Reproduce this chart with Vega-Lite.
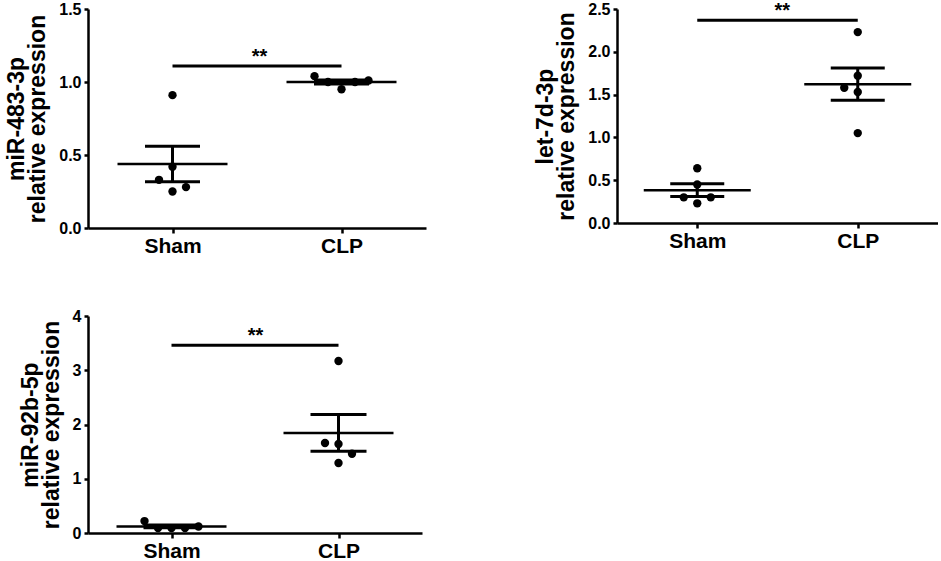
{
  "$schema": "https://vega.github.io/schema/vega-lite/v6.json",
  "padding": {"left": 5, "top": 1, "right": 0, "bottom": 0},
  "bounds": "flush",
  "columns": 2,
  "spacing": {"row": 88, "column": 191},
  "datasets": {
    "points": [
      {"panel": "p1", "group": "Sham", "value": 0.91, "slot": 0},
      {"panel": "p1", "group": "Sham", "value": 0.42, "slot": 0},
      {"panel": "p1", "group": "Sham", "value": 0.33, "slot": -1},
      {"panel": "p1", "group": "Sham", "value": 0.25, "slot": 0},
      {"panel": "p1", "group": "Sham", "value": 0.28, "slot": 1},
      {"panel": "p1", "group": "CLP", "value": 1.04, "slot": -2},
      {"panel": "p1", "group": "CLP", "value": 1.0, "slot": -1},
      {"panel": "p1", "group": "CLP", "value": 0.95, "slot": 0},
      {"panel": "p1", "group": "CLP", "value": 1.0, "slot": 1},
      {"panel": "p1", "group": "CLP", "value": 1.01, "slot": 2},
      {"panel": "p2", "group": "Sham", "value": 0.64, "slot": 0},
      {"panel": "p2", "group": "Sham", "value": 0.45, "slot": 0},
      {"panel": "p2", "group": "Sham", "value": 0.3, "slot": -1},
      {"panel": "p2", "group": "Sham", "value": 0.23, "slot": 0},
      {"panel": "p2", "group": "Sham", "value": 0.3, "slot": 1},
      {"panel": "p2", "group": "CLP", "value": 2.23, "slot": 0},
      {"panel": "p2", "group": "CLP", "value": 1.72, "slot": 0},
      {"panel": "p2", "group": "CLP", "value": 1.58, "slot": -1},
      {"panel": "p2", "group": "CLP", "value": 1.53, "slot": 0},
      {"panel": "p2", "group": "CLP", "value": 1.05, "slot": 0},
      {"panel": "p3", "group": "Sham", "value": 0.22, "slot": -2},
      {"panel": "p3", "group": "Sham", "value": 0.09, "slot": -1},
      {"panel": "p3", "group": "Sham", "value": 0.09, "slot": 0},
      {"panel": "p3", "group": "Sham", "value": 0.09, "slot": 1},
      {"panel": "p3", "group": "Sham", "value": 0.12, "slot": 2},
      {"panel": "p3", "group": "CLP", "value": 3.17, "slot": 0},
      {"panel": "p3", "group": "CLP", "value": 1.66, "slot": -1},
      {"panel": "p3", "group": "CLP", "value": 1.64, "slot": 0},
      {"panel": "p3", "group": "CLP", "value": 1.46, "slot": 1},
      {"panel": "p3", "group": "CLP", "value": 1.29, "slot": 0}
    ],
    "sig": [
      {"panel": "p1", "from": "Sham", "to": "CLP", "y": 1.11, "label": "**"},
      {"panel": "p2", "from": "Sham", "to": "CLP", "y": 2.37, "label": "**"},
      {"panel": "p3", "from": "Sham", "to": "CLP", "y": 3.46, "label": "**"}
    ]
  },
  "concat": [
    {
      "width": 338,
      "height": 219,
      "layer": [
        {
          "data": {"name": "points"},
          "transform": [{"filter": "datum.panel == 'p1'"}],
          "layer": [
            {
              "mark": {"type": "tick", "color": "black", "opacity": 1, "size": 110, "thickness": 2.5},
              "encoding": {
                "x": {"field": "group", "type": "nominal", "scale": {"type": "point", "domain": ["Sham", "CLP"], "padding": 0.5}, "axis": {"title": null}},
                "y": {"aggregate": "mean", "field": "value", "type": "quantitative", "title": ["miR-483-3p", "relative expression"]}
              }
            },
            {
              "mark": {"type": "errorbar", "extent": "stderr", "ticks": {"size": 55, "thickness": 3, "color": "black", "opacity": 1}, "rule": {"strokeWidth": 3, "color": "black", "opacity": 1}},
              "encoding": {
                "x": {"field": "group", "type": "nominal"},
                "y": {"field": "value", "type": "quantitative", "title": ["miR-483-3p", "relative expression"]}
              }
            },
            {
              "mark": {"type": "point", "filled": true, "color": "black", "opacity": 1, "size": 70},
              "encoding": {
                "x": {"field": "group", "type": "nominal"},
                "xOffset": {"field": "slot", "type": "quantitative", "scale": {"domain": [-2, 2], "range": [-27, 27]}},
                "y": {
                  "field": "value", "type": "quantitative",
                  "title": ["miR-483-3p", "relative expression"],
                  "scale": {"domain": [0, 1.5], "nice": false},
                  "axis": {"values": [0, 0.5, 1, 1.5], "format": ".1f"}
                }
              }
            }
          ]
        },
        {
          "data": {"name": "sig"},
          "transform": [{"filter": "datum.panel == 'p1'"}],
          "layer": [
            {
              "mark": {"type": "rule", "color": "black", "strokeWidth": 3},
              "encoding": {
                "x": {"field": "from", "type": "nominal"},
                "x2": {"field": "to"},
                "y": {"field": "y", "type": "quantitative", "title": ["miR-483-3p", "relative expression"]}
              }
            },
            {
              "mark": {"type": "text", "fontSize": 20, "fontWeight": "bold", "color": "black", "baseline": "alphabetic", "dx": 87, "dy": -3},
              "encoding": {
                "x": {"field": "from", "type": "nominal"},
                "y": {"field": "y", "type": "quantitative", "title": ["miR-483-3p", "relative expression"]},
                "text": {"field": "label"}
              }
            }
          ]
        }
      ]
    },
    {
      "width": 321,
      "height": 214,
      "layer": [
        {
          "data": {"name": "points"},
          "transform": [{"filter": "datum.panel == 'p2'"}],
          "layer": [
            {
              "mark": {"type": "tick", "color": "black", "opacity": 1, "size": 107, "thickness": 2.5},
              "encoding": {
                "x": {"field": "group", "type": "nominal", "scale": {"type": "point", "domain": ["Sham", "CLP"], "padding": 0.5}, "axis": {"title": null}},
                "y": {"aggregate": "mean", "field": "value", "type": "quantitative", "title": ["let-7d-3p", "relative expression"]}
              }
            },
            {
              "mark": {"type": "errorbar", "extent": "stderr", "ticks": {"size": 54, "thickness": 3, "color": "black", "opacity": 1}, "rule": {"strokeWidth": 3, "color": "black", "opacity": 1}},
              "encoding": {
                "x": {"field": "group", "type": "nominal"},
                "y": {"field": "value", "type": "quantitative", "title": ["let-7d-3p", "relative expression"]}
              }
            },
            {
              "mark": {"type": "point", "filled": true, "color": "black", "opacity": 1, "size": 70},
              "encoding": {
                "x": {"field": "group", "type": "nominal"},
                "xOffset": {"field": "slot", "type": "quantitative", "scale": {"domain": [-2, 2], "range": [-27, 27]}},
                "y": {
                  "field": "value", "type": "quantitative",
                  "title": ["let-7d-3p", "relative expression"],
                  "scale": {"domain": [0, 2.5], "nice": false},
                  "axis": {"values": [0, 0.5, 1, 1.5, 2, 2.5], "format": ".1f"}
                }
              }
            }
          ]
        },
        {
          "data": {"name": "sig"},
          "transform": [{"filter": "datum.panel == 'p2'"}],
          "layer": [
            {
              "mark": {"type": "rule", "color": "black", "strokeWidth": 3},
              "encoding": {
                "x": {"field": "from", "type": "nominal"},
                "x2": {"field": "to"},
                "y": {"field": "y", "type": "quantitative", "title": ["let-7d-3p", "relative expression"]}
              }
            },
            {
              "mark": {"type": "text", "fontSize": 20, "fontWeight": "bold", "color": "black", "baseline": "alphabetic", "dx": 85, "dy": -3},
              "encoding": {
                "x": {"field": "from", "type": "nominal"},
                "y": {"field": "y", "type": "quantitative", "title": ["let-7d-3p", "relative expression"]},
                "text": {"field": "label"}
              }
            }
          ]
        }
      ]
    },
    {
      "width": 334,
      "height": 217,
      "layer": [
        {
          "data": {"name": "points"},
          "transform": [{"filter": "datum.panel == 'p3'"}],
          "layer": [
            {
              "mark": {"type": "tick", "color": "black", "opacity": 1, "size": 110, "thickness": 2.5},
              "encoding": {
                "x": {"field": "group", "type": "nominal", "scale": {"type": "point", "domain": ["Sham", "CLP"], "padding": 0.5}, "axis": {"title": null}},
                "y": {"aggregate": "mean", "field": "value", "type": "quantitative", "title": ["miR-92b-5p", "relative expression"]}
              }
            },
            {
              "mark": {"type": "errorbar", "extent": "stderr", "ticks": {"size": 56, "thickness": 3, "color": "black", "opacity": 1}, "rule": {"strokeWidth": 3, "color": "black", "opacity": 1}},
              "encoding": {
                "x": {"field": "group", "type": "nominal"},
                "y": {"field": "value", "type": "quantitative", "title": ["miR-92b-5p", "relative expression"]}
              }
            },
            {
              "mark": {"type": "point", "filled": true, "color": "black", "opacity": 1, "size": 70},
              "encoding": {
                "x": {"field": "group", "type": "nominal"},
                "xOffset": {"field": "slot", "type": "quantitative", "scale": {"domain": [-2, 2], "range": [-27, 27]}},
                "y": {
                  "field": "value", "type": "quantitative",
                  "title": ["miR-92b-5p", "relative expression"],
                  "scale": {"domain": [0, 4], "nice": false},
                  "axis": {"values": [0, 1, 2, 3, 4], "format": "d"}
                }
              }
            }
          ]
        },
        {
          "data": {"name": "sig"},
          "transform": [{"filter": "datum.panel == 'p3'"}],
          "layer": [
            {
              "mark": {"type": "rule", "color": "black", "strokeWidth": 3},
              "encoding": {
                "x": {"field": "from", "type": "nominal"},
                "x2": {"field": "to"},
                "y": {"field": "y", "type": "quantitative", "title": ["miR-92b-5p", "relative expression"]}
              }
            },
            {
              "mark": {"type": "text", "fontSize": 20, "fontWeight": "bold", "color": "black", "baseline": "alphabetic", "dx": 84, "dy": -3},
              "encoding": {
                "x": {"field": "from", "type": "nominal"},
                "y": {"field": "y", "type": "quantitative", "title": ["miR-92b-5p", "relative expression"]},
                "text": {"field": "label"}
              }
            }
          ]
        }
      ]
    }
  ],
  "config": {
    "font": "Liberation Sans",
    "view": {"stroke": null},
    "axis": {
      "grid": false,
      "domainColor": "black",
      "domainWidth": 2.5,
      "tickColor": "black",
      "tickWidth": 2.5,
      "labelColor": "black",
      "labelFontWeight": "bold",
      "titleColor": "black",
      "titleFontWeight": "bold",
      "titleFont": "Liberation Sans",
      "labelFont": "Liberation Sans"
    },
    "axisY": {
      "labelFontSize": 16,
      "tickSize": 4,
      "labelPadding": 3,
      "titleFontSize": 23,
      "titleLineHeight": 21,
      "titlePadding": 9
    },
    "axisX": {
      "labelFontSize": 21,
      "tickSize": 5,
      "labelPadding": 2,
      "labelAngle": 0
    }
  }
}
